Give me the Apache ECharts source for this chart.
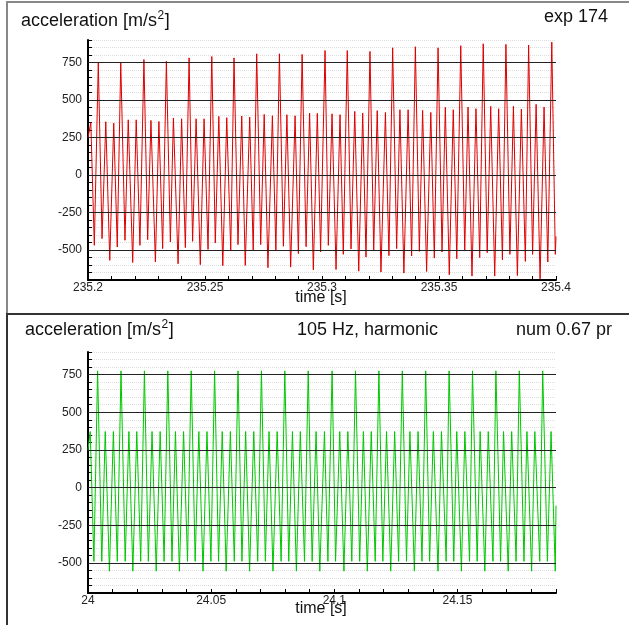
<!DOCTYPE html>
<html>
<head>
<meta charset="utf-8">
<script src="https://cdn.jsdelivr.net/npm/echarts@6.0.0/dist/echarts.min.js"></script>
<style>
  html, body { margin: 0; padding: 0; background: #fff; }
  #chart { width: 629px; height: 625px; }
</style>
</head>
<body>
<div id="chart"></div>
<script>
// 上图: 实验信号 (exp 174)
const expEdgeT = [235.2, 235.4];
const expEdgeA = [250, -410];
const expBigT = [235.2044, 235.2140, 235.2239, 235.2335, 235.2432, 235.2529, 235.2624, 235.2721, 235.2818, 235.2915,
  235.3013, 235.3108, 235.3205, 235.3302, 235.3399, 235.3496, 235.3593, 235.3689, 235.3786, 235.3883, 235.3982];
const expBigA = [748, 752, 770, 759, 781, 790, 781, 808, 808, 804, 830, 830, 824, 848, 855, 848, 862, 875, 871, 866, 886];
const expSmallT = [235.2012, 235.2076, 235.2110, 235.2172, 235.2206, 235.2269, 235.2303, 235.2365, 235.2400, 235.2462,
  235.2496, 235.2559, 235.2593, 235.2657, 235.2691, 235.2753, 235.2788, 235.2850, 235.2885, 235.2947, 235.2980,
  235.3043, 235.3077, 235.3140, 235.3174, 235.3236, 235.3271, 235.3333, 235.3368, 235.3430, 235.3465, 235.3527,
  235.3561, 235.3624, 235.3658, 235.3721, 235.3755, 235.3818, 235.3852, 235.3915, 235.3949];
const expSmallA = [350, 355, 346, 368, 368, 364, 357, 380, 375, 375, 375, 391, 382, 393, 386, 404, 395, 402, 395, 413,
  411, 408, 402, 424, 413, 429, 417, 435, 435, 431, 417, 451, 435, 453, 442, 458, 442, 458, 440, 471, 453];
const expLowT = [235.2027, 235.2060, 235.2093, 235.2125, 235.2158, 235.2191, 235.2222, 235.2255, 235.2288, 235.2319,
  235.2352, 235.2385, 235.2416, 235.2447, 235.2480, 235.2513, 235.2544, 235.2576, 235.2610, 235.2641, 235.2672,
  235.2706, 235.2738, 235.2769, 235.2803, 235.2835, 235.2866, 235.2899, 235.2932, 235.2963, 235.2994, 235.3027,
  235.3060, 235.3091, 235.3124, 235.3157, 235.3188, 235.3221, 235.3252, 235.3286, 235.3319, 235.3350, 235.3383,
  235.3416, 235.3447, 235.3480, 235.3513, 235.3544, 235.3576, 235.3610, 235.3641, 235.3674, 235.3706, 235.3738,
  235.3771, 235.3803, 235.3835, 235.3869, 235.3900, 235.3932, 235.3965, 235.3997];
const expLowA = [-469, -424, -569, -480, -435, -583, -469, -431, -580, -491, -446, -592, -484, -442, -598, -496, -453,
  -605, -507, -464, -603, -502, -464, -618, -507, -475, -614, -524, -478, -632, -513, -469, -630, -529, -493, -641,
  -547, -502, -647, -538, -491, -654, -540, -509, -643, -554, -513, -665, -558, -507, -674, -551, -518, -674, -565,
  -529, -670, -576, -529, -692, -580, -529];

// 下图: 数值模拟 (105 Hz, harmonic)
const numEdgeT = [24.0, 24.19];
const numEdgeA = [250, -120];
const numBigT = [24.0039, 24.0134, 24.0229, 24.0324, 24.0419, 24.0514, 24.0609, 24.0704, 24.0799, 24.0894,
  24.0991, 24.1086, 24.1181, 24.1276, 24.1371, 24.1466, 24.1561, 24.1656, 24.1751, 24.1846];
const numBigA = [775, 775, 775, 775, 775, 775, 775, 775, 775, 775, 775, 775, 775, 775, 775, 775, 775, 775, 775, 775];
const numSmallT = [24.0009, 24.0070, 24.0103, 24.0166, 24.0198, 24.0260, 24.0293, 24.0355, 24.0388, 24.0450,
  24.0483, 24.0545, 24.0578, 24.0640, 24.0673, 24.0735, 24.0768, 24.0830, 24.0862, 24.0926, 24.0960, 24.1022,
  24.1055, 24.1118, 24.1150, 24.1212, 24.1245, 24.1307, 24.1340, 24.1402, 24.1435, 24.1497, 24.1530, 24.1592,
  24.1625, 24.1687, 24.1720, 24.1782, 24.1814, 24.1880];
const numSmallA = [372, 372, 372, 372, 372, 372, 372, 372, 372, 372, 372, 372, 372, 372, 372, 372, 372, 372, 372, 372,
  372, 372, 372, 372, 372, 372, 372, 372, 372, 372, 372, 372, 372, 372, 372, 372, 372, 372, 372, 372];
const numLowT = [24.0024, 24.0056, 24.0087, 24.0119, 24.0151, 24.0182, 24.0214, 24.0245, 24.0277, 24.0309, 24.0341,
  24.0371, 24.0404, 24.0435, 24.0467, 24.0499, 24.0530, 24.0561, 24.0594, 24.0625, 24.0656, 24.0689, 24.0720,
  24.0751, 24.0784, 24.0815, 24.0846, 24.0879, 24.0910, 24.0941, 24.0974, 24.1005, 24.1039, 24.1071, 24.1103,
  24.1134, 24.1166, 24.1197, 24.1229, 24.1261, 24.1293, 24.1325, 24.1356, 24.1387, 24.1421, 24.1454, 24.1485,
  24.1516, 24.1549, 24.1580, 24.1611, 24.1644, 24.1675, 24.1706, 24.1738, 24.1770, 24.1801, 24.1834, 24.1865, 24.1897];
const numLowA = [-490, -490, -555, -490, -490, -555, -490, -490, -555, -490, -490, -555, -490, -490, -555,
  -490, -490, -555, -490, -490, -555, -490, -490, -555, -490, -490, -555, -490, -490, -555,
  -490, -490, -555, -490, -490, -555, -490, -490, -555, -490, -490, -555, -490, -490, -555,
  -490, -490, -555, -490, -490, -555, -490, -490, -555, -490, -490, -555, -490, -490, -555];

// 坐标轴刻度
const yRange = [-700, 900];
const yMajorTicks = [-500, -250, 0, 250, 500, 750];
const expRange = [235.2, 235.4];
const numRange = [24.0, 24.19];

const FONT = 'Arial, "Liberation Sans", Helvetica, sans-serif';

// 把极值点合并成一条按时间排序的折线
function mergePoints(groups) {
  const pts = [];
  groups.forEach(([ts, as]) => ts.forEach((t, i) => pts.push([t, as[i]])));
  return pts.sort((p, q) => p[0] - q[0]);
}

// 测量文字宽度 (用于上标定位)
const measureCtx = document.createElement('canvas').getContext('2d');
function textWidth(text, size) {
  measureCtx.font = size + 'px ' + FONT;
  return measureCtx.measureText(text).width;
}

function xLabel(v) {
  const k = v * 20;
  return Math.abs(k - Math.round(k)) < 1e-6 ? String(Number(v.toFixed(2))) : '';
}

function yLabel(v) {
  return v % 250 === 0 ? String(v) : '';
}

function makeX(idx, range) {
  return {
    type: 'value', gridIndex: idx, min: range[0], max: range[1], interval: 0.01,
    axisLine: { show: true, onZero: false, lineStyle: { color: '#000', width: 2 } },
    axisTick: { show: true, inside: true, length: 4, lineStyle: { color: '#000', width: 1 } },
    axisLabel: { formatter: xLabel, margin: 2, fontSize: 12, color: '#222', fontFamily: FONT,
      showMinLabel: true, showMaxLabel: true, hideOverlap: false },
    splitLine: { show: false }
  };
}

function makeY(idx) {
  return {
    type: 'value', gridIndex: idx, min: yRange[0], max: yRange[1], interval: 50,
    axisLine: { show: true, onZero: false, lineStyle: { color: '#000', width: 2 } },
    axisTick: { show: true, inside: true, length: 4, lineStyle: { color: '#000', width: 1 } },
    axisLabel: { formatter: yLabel, margin: 6, fontSize: 12, color: '#222', fontFamily: FONT,
      showMinLabel: true, showMaxLabel: true, hideOverlap: false },
    splitLine: { show: true, lineStyle: { color: '#dddddd', type: 'dotted', width: 1 } }
  };
}

function makeSeries(idx, points, color) {
  return {
    type: 'line', xAxisIndex: idx, yAxisIndex: idx, data: points,
    showSymbol: false, symbol: 'none', sampling: false, animation: false, silent: true,
    lineStyle: { color: color, width: 1 },
    markLine: {
      silent: true, symbol: 'none', animation: false,
      label: { show: false },
      lineStyle: { color: '#222', width: 1, type: 'solid' },
      data: yMajorTicks.map(v => ({ yAxis: v }))
    }
  };
}

function titleText(x, y, text, align) {
  return {
    type: 'text', x: x, y: y, z: 10,
    style: { text: text, fontSize: 18, fontFamily: FONT, fill: '#111', align: align || 'left', verticalAlign: 'middle' }
  };
}

// "acceleration [m/s²]" 拆成三段, 上标单独放
function accelTitle(x, y) {
  const head = 'acceleration [m/s';
  const w1 = textWidth(head, 18);
  const w2 = textWidth('2', 12);
  return [
    titleText(x, y, head),
    { type: 'text', x: x + w1 + 0.5, y: y - 5, z: 10,
      style: { text: '2', fontSize: 12, fontFamily: FONT, fill: '#111', verticalAlign: 'middle' } },
    titleText(x + w1 + w2 + 1, y, ']')
  ];
}

function axisName(y) {
  return {
    type: 'text', x: 321, y: y, z: 10,
    style: { text: 'time [s]', fontSize: 16, fontFamily: FONT, fill: '#111', align: 'center', verticalAlign: 'middle' }
  };
}

const expPoints = mergePoints([[expEdgeT, expEdgeA], [expBigT, expBigA], [expSmallT, expSmallA], [expLowT, expLowA]]);
const numPoints = mergePoints([[numEdgeT, numEdgeA], [numBigT, numBigA], [numSmallT, numSmallA], [numLowT, numLowA]]);

const chart = echarts.init(document.getElementById('chart'), null, { renderer: 'canvas' });

chart.setOption({
  animation: false,
  backgroundColor: '#fff',
  grid: [
    { left: 88, top: 40, width: 468, height: 240, containLabel: false, outerBoundsMode: 'none' },
    { left: 88, top: 352, width: 468, height: 241, containLabel: false, outerBoundsMode: 'none' }
  ],
  xAxis: [makeX(0, expRange), makeX(1, numRange)],
  yAxis: [makeY(0), makeY(1)],
  series: [makeSeries(0, expPoints, '#dd0000'), makeSeries(1, numPoints, '#00c800')],
  graphic: [
    // 面板边框
    { type: 'rect', z: 0, shape: { x: 7, y: 2, width: 640, height: 312 }, style: { fill: 'none', stroke: '#888', lineWidth: 2 } },
    { type: 'rect', z: 0, shape: { x: 7, y: 314, width: 640, height: 330 }, style: { fill: 'none', stroke: '#333', lineWidth: 2 } },
    ...accelTitle(21, 21),
    titleText(608, 17, 'exp 174', 'right'),
    ...accelTitle(25, 330),
    titleText(297, 330, '105 Hz, harmonic'),
    titleText(612, 330, 'num 0.67 pr', 'right'),
    axisName(298),
    axisName(609)
  ]
});
</script>
</body>
</html>
